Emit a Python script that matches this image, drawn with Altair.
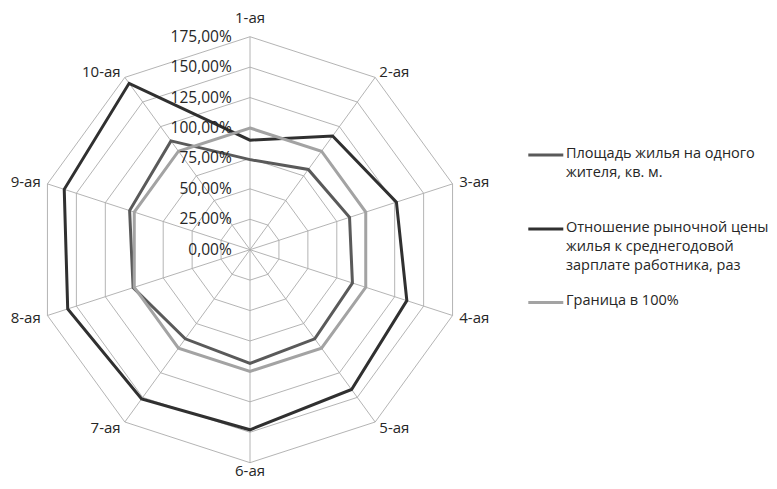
import altair as alt
import pandas as pd

# ---------------- data ----------------
categories = ["1-ая", "2-ая", "3-ая", "4-ая", "5-ая", "6-ая", "7-ая", "8-ая", "9-ая", "10-ая"]
area_per_resident = [74, 81.5, 86, 88.5, 90.5, 93.5, 90.5, 101, 104, 110.5]
price_to_salary = [90, 115.5, 126.5, 135.5, 142, 148, 151.5, 157.5, 160.5, 169]
border_100 = [100, 100, 100, 100, 100, 100, 100, 100, 100, 100]
series_names = [
    "Площадь жилья на одного\nжителя, кв. м.",
    "Отношение рыночной цены\nжилья к среднегодовой\nзарплате работника, раз",
    "Граница в 100%",
]
series_colors = ["#5a5a5a", "#303030", "#a3a3a3"]
grid_levels = [0, 25, 50, 75, 100, 125, 150, 175]
tick_labels = ["0,00%", "25,00%", "50,00%", "75,00%", "100,00%", "125,00%", "150,00%", "175,00%"]

N = len(categories)
series_values = [area_per_resident, price_to_salary, border_100]

# ---------------- layout ----------------
W, H = 760, 472
CX, CY = 242, 241.7      # centre of the radar in plot px
K = 1.217                # px per percent
xs = alt.Scale(domain=[-CX / K, (W - CX) / K], nice=False, zero=False)
ys = alt.Scale(domain=[-(H - CY) / K, CY / K], nice=False, zero=False)
FONT = "Open Sans"
TXT = "#262626"


def polar(ch, rfield):
    return ch.transform_calculate(
        ang=f"datum.idx * 2 * PI / {N}"
    ).transform_calculate(
        px=f"datum.{rfield} * sin(datum.ang)",
        py=f"datum.{rfield} * cos(datum.ang)",
        z="0",
    )


X = alt.X("px:Q", scale=xs, axis=None)
Y = alt.Y("py:Q", scale=ys, axis=None)

# grid polygons
grid_df = pd.DataFrame(
    [{"level": lv, "idx": i} for lv in grid_levels[1:] for i in range(N)]
)
grid = polar(alt.Chart(grid_df), "level").mark_line(
    interpolate="linear-closed", color="#ababab", strokeWidth=0.9
).encode(x=X, y=Y, detail="level:N", order="idx:Q")

# spokes
spoke_df = pd.DataFrame({"idx": list(range(N)), "r": [grid_levels[-1]] * N})
spokes = polar(alt.Chart(spoke_df), "r").mark_rule(
    color="#ababab", strokeWidth=0.9
).encode(
    x=alt.X("z:Q", scale=xs, axis=None),
    y=alt.Y("z:Q", scale=ys, axis=None),
    x2="px:Q",
    y2="py:Q",
)

# series lines
series_layers = []
for name, vals, col in zip(series_names, series_values, series_colors):
    df = pd.DataFrame({"idx": list(range(N)), "value": vals, "category": categories})
    series_layers.append(
        polar(alt.Chart(df), "value").mark_line(
            interpolate="linear-closed", color=col, strokeWidth=3, strokeJoin="miter"
        ).encode(x=X, y=Y, order="idx:Q")
    )

# tick labels
tick_df = pd.DataFrame({"level": grid_levels, "label": tick_labels})
ticks = alt.Chart(tick_df).mark_text(
    align="right", baseline="middle", font=FONT, fontSize=15.5, color=TXT
).encode(
    x=alt.X("xo:Q", scale=xs, axis=None),
    y=alt.Y("level:Q", scale=ys, axis=None),
    text="label:N",
).transform_calculate(xo="-15")

# category labels
cat_df = pd.DataFrame({"idx": list(range(N)), "category": categories})
cat_base = polar(
    alt.Chart(cat_df).transform_calculate(
        rl="datum.idx == 0 ? 190.5 : (datum.idx == 5 ? 181.5 : 180.8)"
    ),
    "rl",
)
cat_right = cat_base.transform_filter("datum.idx >= 1 && datum.idx <= 4").mark_text(
    align="left", baseline="middle", font=FONT, fontSize=15, color=TXT
).encode(x=X, y=Y, text="category:N")
cat_left = cat_base.transform_filter("datum.idx >= 6").mark_text(
    align="right", baseline="middle", font=FONT, fontSize=15, color=TXT
).encode(x=X, y=Y, text="category:N")
cat_mid = cat_base.transform_filter("datum.idx == 0 || datum.idx == 5").mark_text(
    align="center", baseline="middle", font=FONT, fontSize=15, color=TXT
).encode(x=X, y=Y, text="category:N")

# legend (drawn manually to match the multi-line layout)
legend_layers = []
leg_sym_y = [147, 221, 294.5]
for i, (name, col) in enumerate(zip(series_names, series_colors)):
    ldf = pd.DataFrame({"label": [name]})
    legend_layers.append(
        alt.Chart(ldf).mark_rule(color=col, strokeWidth=3).encode(
            x=alt.value(520.3), x2=alt.value(555.3), y=alt.value(leg_sym_y[i])
        )
    )
    legend_layers.append(
        alt.Chart(ldf).mark_text(
            align="left", baseline="top", lineBreak="\n", lineHeight=19,
            font=FONT, fontSize=14.5, color=TXT
        ).encode(x=alt.value(558), y=alt.value(leg_sym_y[i] - 8.5), text="label:N")
    )

chart = alt.layer(
    grid, spokes, *series_layers, ticks, cat_right, cat_left, cat_mid, *legend_layers
).properties(
    width=W, height=H, padding=0,
    autosize=alt.AutoSizeParams(type="none"),
).configure_view(stroke=None)

chart.save("out.html", embed_options={"renderer": "svg", "actions": False})
